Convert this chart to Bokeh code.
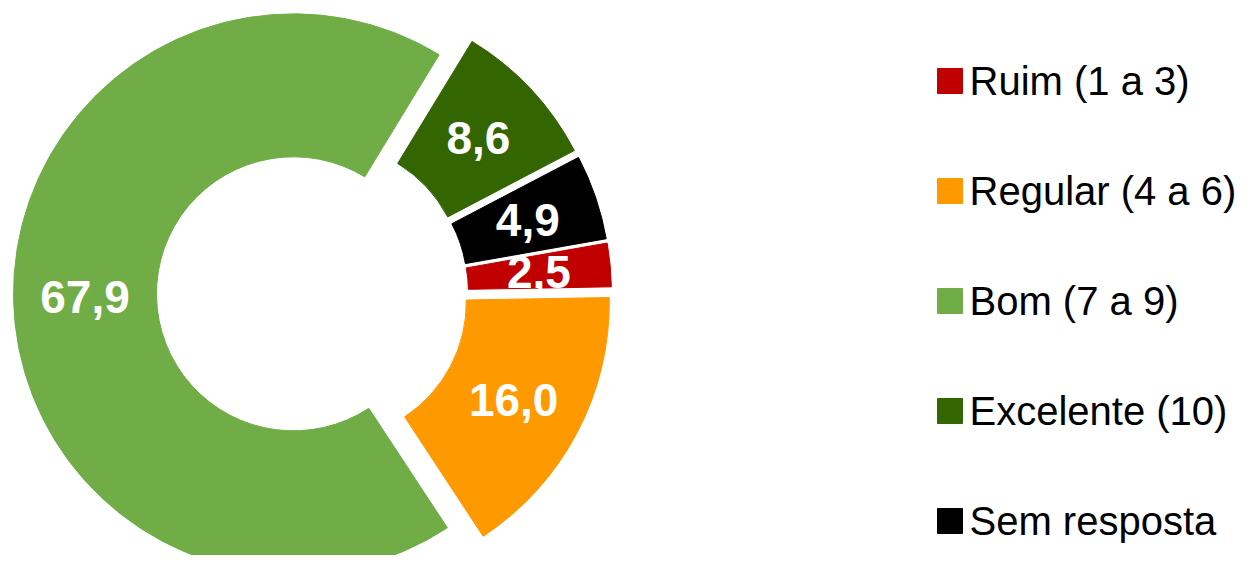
import math
from bokeh.plotting import figure
from bokeh.models import Range1d, ColumnDataSource
from bokeh.core.properties import value
from bokeh.embed import file_html
from bokeh.resources import INLINE

# ---- data ----
categories = ["Ruim (1 a 3)", "Regular (4 a 6)", "Bom (7 a 9)", "Excelente (10)", "Sem resposta"]
values = [2.5, 16.0, 67.9, 8.6, 4.9]
labels = ["2,5", "16,0", "67,9", "8,6", "4,9"]
colors = ["#C00000", "#FF9900", "#70AD47", "#336600", "#000000"]

# ---- layout / style ----
W, H = 1239, 555
PAGE_H = 571
cx, cy = 312, PAGE_H - 293
r_in, r_out = 137, 280
explode = 19
first_angle = math.radians(10)

total = sum(values)
starts, ends, xs, ys, lx, ly = [], [], [], [], [], []
cum = 0.0
for v in values:
    s = first_angle - 2 * math.pi * cum / total
    cum += v
    e = first_angle - 2 * math.pi * cum / total
    m = (s + e) / 2
    starts.append(s); ends.append(e)
    x0 = cx + explode * math.cos(m)
    y0 = cy + explode * math.sin(m)
    xs.append(x0); ys.append(y0)
    rm = (r_in + r_out) / 2
    lx.append(x0 + rm * math.cos(m))
    ly.append(y0 + rm * math.sin(m))

src = ColumnDataSource(dict(x=xs, y=ys, start=starts, end=ends, color=colors,
                            lx=lx, ly=ly, label=labels))

p = figure(width=W, height=H, output_backend="svg", toolbar_location=None,
           x_range=Range1d(0, W), y_range=Range1d(PAGE_H - H, PAGE_H),
           x_axis_type=None, y_axis_type=None, min_border=0)
p.outline_line_color = None
p.grid.visible = False
p.background_fill_color = "white"

p.annular_wedge(x="x", y="y", inner_radius=r_in, outer_radius=r_out,
                start_angle="start", end_angle="end", direction="clock",
                fill_color="color", line_color="color", line_width=1, source=src)

p.text(x="lx", y="ly", text="label", source=src, text_color="white",
       text_font=value("Liberation Sans"), text_font_style="bold",
       text_font_size="46px", text_align="center", text_baseline="middle")

# legend
leg_y = [PAGE_H - 80.5 - 110 * i for i in range(len(categories))]
leg_src = ColumnDataSource(dict(y=leg_y, color=colors, name=categories))
p.rect(x=949.5, y="y", width=25, height=25, fill_color="color",
       line_color="color", source=leg_src)
p.text(x=969, y="y", text="name", source=leg_src, text_color="black",
       text_font=value("Liberation Sans"), text_font_size="40px",
       text_align="left", text_baseline="middle")

open("out.html", "w").write(file_html(p, INLINE))
